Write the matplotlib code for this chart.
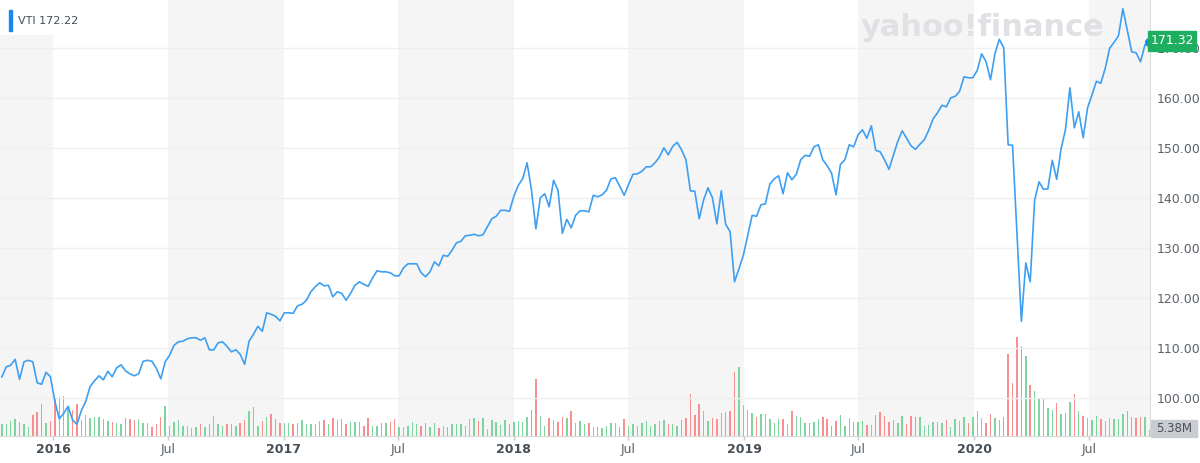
import pandas as pd
import matplotlib
matplotlib.use("Agg")
import matplotlib.pyplot as plt
from matplotlib.patches import Rectangle

# Weekly VTI closes (Oct 2015 - Sep 2020)
prices = [
    104.3, 106.3, 106.6, 107.8, 103.8, 107.3, 107.6, 107.3, 103.1, 102.8,
    105.2, 104.3, 99.4, 95.9, 97.0, 98.4, 95.7, 94.8, 97.5, 99.4,
    102.4, 103.5, 104.5, 103.7, 105.4, 104.3, 106.1, 106.7, 105.5, 104.9,
    104.5, 104.9, 107.4, 107.6, 107.4, 106.0, 103.9, 107.3, 108.6, 110.6,
    111.3, 111.4, 111.9, 112.1, 112.1, 111.6, 112.1, 109.7, 109.7, 111.1,
    111.3, 110.4, 109.3, 109.7, 108.8, 106.8, 111.4, 112.8, 114.4, 113.4,
    117.1, 116.8, 116.4, 115.5, 117.1, 117.1, 117.0, 118.5, 118.8, 119.6,
    121.3, 122.3, 123.1, 122.5, 122.6, 120.3, 121.3, 121.0, 119.6, 121.0,
    122.6, 123.3, 122.8, 122.4, 124.1, 125.5, 125.3, 125.3, 125.1, 124.5,
    124.5, 126.1, 126.9, 126.9, 126.9, 125.1, 124.3, 125.3, 127.3, 126.5,
    128.6, 128.4, 129.6, 131.1, 131.4, 132.5, 132.6, 132.8, 132.5, 132.7,
    134.3, 135.9, 136.4, 137.6, 137.6, 137.4, 140.4, 142.6, 143.9, 147.1,
    141.6, 133.9, 140.1, 140.9, 138.3, 143.6, 141.6, 133.0, 135.8, 134.1,
    136.6, 137.5, 137.5, 137.3, 140.6, 140.3, 140.7, 141.6, 143.9, 144.1,
    142.4, 140.6, 142.8, 144.8, 144.9, 145.4, 146.3, 146.3, 147.1, 148.3,
    150.1, 148.7, 150.4, 151.2, 149.7, 147.7, 141.5, 141.4, 135.9, 139.7,
    142.1, 140.1, 134.9, 141.5, 134.8, 133.3, 123.3, 125.9, 128.6, 132.6,
    136.6, 136.4, 138.7, 138.9, 142.8, 143.9, 144.5, 140.9, 145.1, 143.7,
    144.8, 147.7, 148.6, 148.4, 150.3, 150.7, 147.7, 146.5, 145.0, 140.7,
    146.8, 147.7, 150.7, 150.3, 152.7, 153.7, 152.0, 154.5, 149.6, 149.3,
    147.7, 145.8, 148.6, 151.4, 153.5, 152.0, 150.5, 149.8, 150.8, 151.7,
    153.6, 155.9, 157.1, 158.6, 158.3, 160.1, 160.4, 161.4, 164.3, 164.1,
    164.1, 165.6, 168.9, 167.3, 163.7, 168.9, 171.8, 170.1, 150.7, 150.6,
    133.0, 115.4, 127.1, 123.3, 139.6, 143.3, 141.8, 141.9, 147.6, 143.8,
    149.9, 153.8, 162.1, 154.1, 157.3, 152.1, 158.1, 160.7, 163.4, 163.0,
    166.0, 170.0, 171.2, 172.5, 177.9, 173.6, 169.3, 169.1, 167.3, 170.7,
    171.32,
]

# weekly volume, millions
volumes = [
    11.7, 11.7, 15, 17, 13.7, 11.7, 9.3, 21, 24.3, 32,
    13.3, 15, 37.7, 38.7, 40.3, 27.7, 26, 31.7, 16, 21,
    17.7, 19.3, 19.3, 16.7, 15, 13.7, 13.3, 11.7, 17.7, 16.7,
    16, 16.7, 13.3, 12.7, 9.3, 11.7, 19.3, 30.3, 10.3, 13.7,
    16, 10, 10, 8.3, 8.7, 12, 8.7, 12, 20, 12,
    10, 12, 12, 10.3, 13.3, 16, 25.3, 28.7, 10, 15.3,
    18.7, 22, 16.7, 13.3, 13.3, 13.3, 11.7, 12.7, 16, 12,
    12, 11.7, 15.3, 16, 12, 17.7, 16, 17, 11.7, 13.7,
    13.7, 13.7, 10.3, 17.7, 10, 10.3, 13.3, 12.7, 14.3, 17,
    8.7,
    9.3, 10.3, 14.3, 12, 10, 12.7, 9.3, 12.7, 7.7, 10,
    9.3, 12, 11.7, 11.7, 10, 16.7, 17.7, 15, 17.7, 6.7,
    16, 13.7, 11, 16, 11.7, 14.3, 15, 13.7, 18.7, 26,
    57, 20.3, 10, 17.7, 16, 13.7, 19.3, 17.7, 25, 13.3,
    15, 12, 12.7, 8.7, 9.3, 7.7, 10, 13.3, 12.7, 9.3,
    17, 10.3, 11.7, 10, 12.7, 15, 10, 11.7, 15, 16,
    12, 12, 10.3, 16, 17.7, 41.7, 21, 32, 25, 15,
    17.7, 17, 22.7, 23.7, 25.3, 63.7, 69.3, 31, 26, 23.3,
    19.3, 22, 22, 16.7, 13.3, 17, 17, 12, 25.3, 20.3,
    18.7,
    13.3, 12.7, 13.7, 16.7, 19.3, 16.7, 10, 15, 21, 10,
    17.7, 13.7, 13.7, 15, 11, 11, 21, 23.7, 20, 13.7,
    16, 12.7, 20, 12, 20, 18.7, 18.7, 10, 11, 13.7,
    13.7, 13.3, 16, 9.3, 16.7, 15.3, 18.7, 12.7, 18.7, 25,
    17.7, 12.7, 22, 17.7, 16, 18.7, 81.7, 52.7, 99.3, 90,
    80, 51, 45, 37.7, 37, 27.7, 26, 33.3, 22, 23.3,
    34.3, 41.7, 25, 20, 17.7, 16, 20, 17, 15, 17.7,
    17, 17, 22, 25, 18.7, 18.3, 18.7, 19.3, 6,
]

tick_dates = ["2016-01-01", "2016-07-01", "2017-01-01", "2017-07-01", "2018-01-01",
              "2018-07-01", "2019-01-01", "2019-07-01", "2020-01-01", "2020-07-01"]
tick_labels = ["2016", "Jul", "2017", "Jul", "2018", "Jul", "2019", "Jul", "2020", "Jul"]

dates = pd.date_range("2015-10-12", periods=len(prices), freq="7D")
colors = ["#7dd49f"] + ["#f78f91" if prices[i] < prices[i - 1] else "#7dd49f"
                        for i in range(1, len(prices))]

W, H = 1200, 463
fig = plt.figure(figsize=(W / 100, H / 100), dpi=100)
rect = [0, 27 / H, 1150 / W, 436 / H]

# volume / background axes
axv = fig.add_axes(rect)
axv.set_xlim(pd.Timestamp("2015-10-09"), pd.Timestamp("2020-10-06"))
axv.set_ylim(0, 436)
for yr in range(2015, 2021):
    axv.axvspan(pd.Timestamp(f"{yr}-07-01"), pd.Timestamp(f"{yr + 1}-01-01"),
                color="#f5f5f5", lw=0, zorder=0)
axv.bar(dates, volumes, width=2.3, color=colors, zorder=2)
axv.axis("off")

# price axes on top
ax = fig.add_axes(rect, sharex=axv)
ax.patch.set_visible(False)
ax.set_ylim(92.46, 179.66)
ax.plot(dates, prices, color="#3d9ff2", lw=1.2, zorder=3)
ax.plot(dates[-1], prices[-1], "o", ms=5.5, color="#1a86f2", zorder=4, clip_on=False)

ax.text(983 / 1150, 1 - 27 / 436, "yahoo!finance", transform=ax.transAxes,
        ha="center", va="center", fontsize=22, fontweight="heavy", color="#dfe1e5", zorder=1)

ax.yaxis.tick_right()
ax.set_yticks(range(100, 171, 10))
ax.set_yticklabels([f"{v:.2f}" for v in range(100, 171, 10)])
ax.tick_params(axis="y", length=0, pad=5, labelsize=9, labelcolor="#5b636a")
ax.grid(axis="y", color="#efefef", lw=1)

ax.set_xticks(pd.to_datetime(tick_dates))
ax.set_xticklabels(tick_labels)
ax.tick_params(axis="x", length=3, width=1, color="#c8c8c8", pad=2, labelsize=9)
for lbl in ax.get_xticklabels():
    if lbl.get_text() == "Jul":
        lbl.set_color("#5b636a")
    else:
        lbl.set_color("#464e56")
        lbl.set_fontweight("bold")

for side in ["top", "left"]:
    ax.spines[side].set_visible(False)
ax.spines["right"].set_color("#dcdcdc")
ax.spines["bottom"].set_color("#d8d8d8")

# legend box top-left
fig.patches.append(Rectangle((0, 1 - 34 / H), 80 / W, 34 / H, transform=fig.transFigure,
                             color="white", zorder=5))
fig.patches.append(Rectangle((9 / W, 1 - 31 / H), 3 / W, 21 / H, transform=fig.transFigure,
                             color="#1a86f2", zorder=6))
fig.text(18 / W, 1 - 21 / H, "VTI 172.22", fontsize=8, color="#464e56", va="center",
         zorder=6)

# last price label (covers most of the 170.00 tick, as in the original)
fig.patches.append(Rectangle((1148 / W, 1 - 51 / H), 48 / W, 20 / H, transform=fig.transFigure,
                             color="#1eae5f", zorder=5))
fig.text(1172 / W, 1 - 41 / H, "171.32", fontsize=9, color="white", ha="center", va="center",
         zorder=6)

# last volume label
fig.patches.append(Rectangle((1151 / W, 1 - 437 / H), 46 / W, 17 / H, transform=fig.transFigure,
                             color="#c8cbd0", zorder=5))
fig.text(1174 / W, 1 - 428.5 / H, "5.38M", fontsize=8.5, color="#4a5058", ha="center",
         va="center", zorder=6)

fig.savefig("out.png", dpi=100)
